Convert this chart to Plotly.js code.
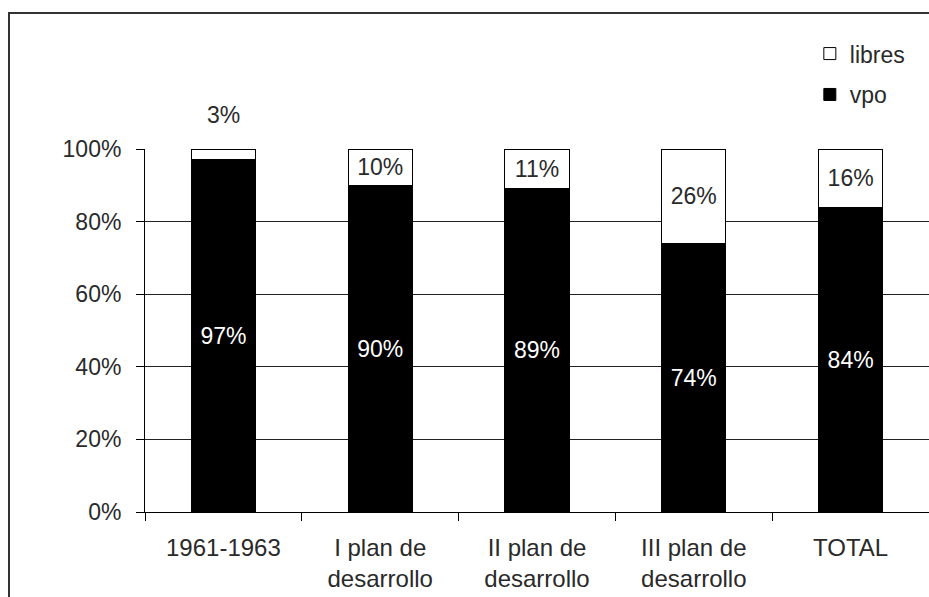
<!DOCTYPE html>
<html>
<head>
<meta charset="utf-8">
<script src="https://cdn.plot.ly/plotly-3.0.1.min.js"></script>
<style>
  html, body { margin: 0; padding: 0; background: #fff; }
  #wrap { position: relative; width: 929px; height: 597px; overflow: hidden; }
  #chart { position: absolute; left: 0; top: 0; width: 929px; height: 597px; }
  #frame { position: absolute; left: 8px; top: 12px; width: 980px; height: 640px;
           border-left: 2px solid #333; border-top: 2px solid #333; pointer-events: none; }
</style>
</head>
<body>
<div id="wrap">
  <div id="chart"></div>
  <div id="frame"></div>
</div>
<script>
const categories = ["1961-1963", "I plan de<br>desarrollo", "II plan de<br>desarrollo", "III plan de<br>desarrollo", "TOTAL"];
const vpo = [0.97, 0.90, 0.89, 0.74, 0.84];
const libres = [0.03, 0.10, 0.11, 0.26, 0.16];
const yTickVals = [0, 0.2, 0.4, 0.6, 0.8, 1.0];
const yTickText = ["0%", "20%", "40%", "60%", "80%", "100%"];

const FONT = "Liberation Sans, Arial, sans-serif";
const FS = 23;
const TXT = "#2a2a2a";
const pct = v => Math.round(v * 100) + "%";

// small segments get their label above the bar instead of inside
const smallLimit = 0.05;
const libresPos = libres.map(v => v < smallLimit ? "none" : "inside");

const traces = [
  {
    type: "bar", name: "vpo", legendgroup: "vpo", legendrank: 2, x: categories, y: vpo,
    width: 0.41,
    marker: { color: "#000", line: { color: "#000", width: 1 } },
    text: vpo.map(pct), textposition: "inside", insidetextanchor: "middle",
    textfont: { family: FONT, size: FS, color: "#fff" },
    constraintext: "none", hoverinfo: "skip"
  },
  {
    type: "bar", name: "libres", legendgroup: "libres", legendrank: 1, x: categories, y: libres,
    width: 0.41,
    marker: { color: "#fff", line: { color: "#000", width: 1 } },
    text: libres.map(pct), textposition: libresPos, insidetextanchor: "middle",
    textfont: { family: FONT, size: FS, color: TXT },
    constraintext: "none", hoverinfo: "skip"
  }
];

const annotations = [];
libres.forEach((v, i) => {
  if (v < smallLimit) {
    annotations.push({
      x: categories[i], y: vpo[i] + v, xref: "x", yref: "y",
      text: pct(v), showarrow: false, yanchor: "bottom", yshift: 19,
      font: { family: FONT, size: FS, color: TXT }
    });
  }
});

const layout = {
  width: 929, height: 597,
  margin: { l: 145, r: 0, t: 149, b: 85, pad: 0 },
  paper_bgcolor: "#fff", plot_bgcolor: "#fff",
  barmode: "stack",
  font: { family: FONT, size: FS, color: TXT },
  showlegend: true,
  legend: {
    x: 0.848, y: 1.322, xanchor: "left", yanchor: "top",
    traceorder: "grouped",
    font: { family: FONT, size: 23, color: TXT },
    itemwidth: 30, tracegroupgap: 8,
    bgcolor: "rgba(0,0,0,0)"
  },
  xaxis: {
    type: "category", range: [-0.5, 4.5],
    showline: true, linecolor: "#000", linewidth: 1,
    ticks: "outside", tickson: "boundaries", ticklen: 8, tickcolor: "#000",
    ticklabelstandoff: 14,
    showgrid: false, zeroline: false,
    tickfont: { family: FONT, size: 24, color: TXT }
  },
  yaxis: {
    range: [0, 1], tickvals: yTickVals, ticktext: yTickText,
    showline: true, linecolor: "#000", linewidth: 1,
    ticks: "outside", ticklen: 8, tickcolor: "#000",
    ticklabelstandoff: 10,
    showgrid: true, gridcolor: "#222", gridwidth: 1,
    zeroline: false,
    tickfont: { family: FONT, size: FS, color: TXT }
  },
  annotations: annotations
};

Plotly.newPlot("chart", traces, layout, { staticPlot: true, displayModeBar: false });
</script>
</body>
</html>
